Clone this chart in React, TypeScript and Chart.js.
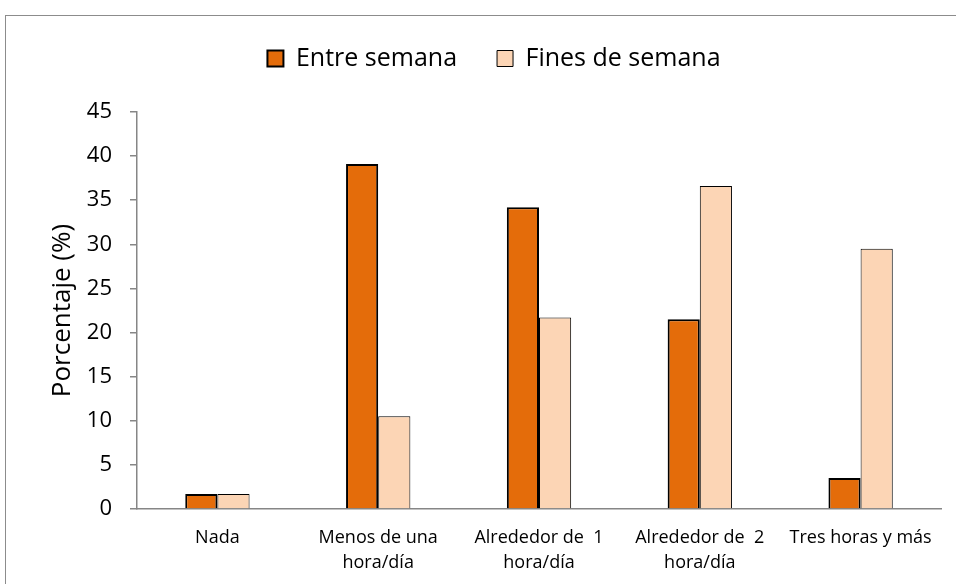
import React, { useEffect, useRef } from "react";
import { Chart, registerables } from "chart.js";

Chart.register(...registerables);

const categories: string[][] = [
  ["Nada"],
  ["Menos de una", "hora/día"],
  ["Alrededor de  1", "hora/día"],
  ["Alrededor de  2", "hora/día"],
  ["Tres horas y más"],
];
const entreSemana: number[] = [1.7, 39.1, 34.2, 21.5, 3.5];
const finesSemana: number[] = [1.7, 10.5, 21.7, 36.6, 29.5];
const seriesNames: string[] = ["Entre semana", "Fines de semana"];
const yTitle = "Porcentaje (%)";

const FONT = "'Open Sans', 'Noto Sans', sans-serif";
const AXIS = "#868686";

export default function App() {
  const ref = useRef<HTMLCanvasElement | null>(null);

  useEffect(() => {
    if (!ref.current) return;
    const chart = new Chart(ref.current, {
      type: "bar",
      data: {
        labels: categories,
        datasets: [
          {
            label: seriesNames[0],
            data: entreSemana,
            backgroundColor: "#E46C0A",
            borderColor: "#000000",
            borderWidth: 2,
            categoryPercentage: 0.4,
            barPercentage: 1,
          },
          {
            label: seriesNames[1],
            data: finesSemana,
            backgroundColor: "#FCD5B5",
            borderColor: "#000000",
            borderWidth: 1,
            categoryPercentage: 0.4,
            barPercentage: 1,
          },
        ],
      },
      options: {
        animation: false,
        responsive: false,
        maintainAspectRatio: false,
        layout: { padding: { top: 6, left: 47, right: 15, bottom: 0 } },
        plugins: {
          tooltip: { enabled: false },
          legend: {
            display: true,
            position: "top",
            labels: {
              boxWidth: 16,
              boxHeight: 16,
              padding: 40,
              color: "#000",
              font: { family: FONT, size: 25 },
            },
          },
          title: {
            display: true,
            text: "",
            position: "top",
            weight: 500,
            font: { size: 10, lineHeight: 1 },
            padding: { top: 0, bottom: 21 },
          },
        },
        scales: {
          x: {
            grid: { display: false, drawTicks: false },
            border: { display: true, color: AXIS, width: 1.5 },
            ticks: {
              color: "#000",
              font: { family: FONT, size: 18, lineHeight: 1.35 },
              maxRotation: 0,
              autoSkip: false,
              padding: 17,
            },
            afterFit: (s: any) => {
              s.height = 584 - 509;
            },
          },
          y: {
            min: 0,
            max: 45,
            ticks: {
              stepSize: 5,
              color: "#000",
              font: { family: FONT, size: 22 },
              padding: 18,
            },
            grid: {
              display: true,
              drawOnChartArea: false,
              drawTicks: true,
              tickLength: 7,
              color: AXIS,
              lineWidth: 1.5,
            },
            border: { display: true, color: AXIS, width: 1.5 },
            title: {
              display: true,
              text: yTitle,
              color: "#000",
              font: { family: FONT, size: 26 },
              padding: 0,
            },
            afterFit: (s: any) => {
              s.width = 137 - 47;
            },
          },
        },
      },
    });
    return () => chart.destroy();
  }, []);

  return (
    <div
      style={{
        position: "fixed",
        left: 0,
        top: 0,
        width: 956,
        height: 584,
        overflow: "hidden",
        background: "#fff",
      }}
    >
      <canvas ref={ref} width={956} height={584} style={{ display: "block" }} />
      <div
        style={{
          position: "absolute",
          left: 5,
          top: 15,
          width: 1200,
          height: 1200,
          border: "1px solid #8c8c8c",
          pointerEvents: "none",
        }}
      />
    </div>
  );
}
